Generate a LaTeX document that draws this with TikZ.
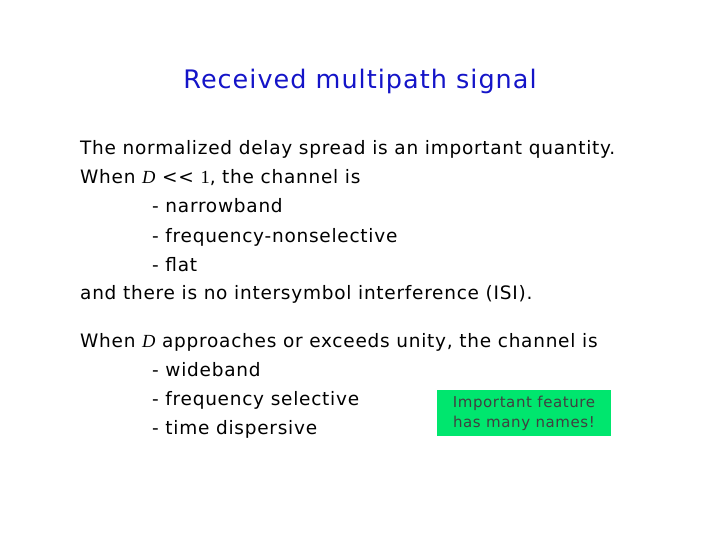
\documentclass[tikz,border=0pt]{standalone}
\usepackage{fontspec}
\setmainfont{DejaVu Sans}[LetterSpace=4]
\newfontfamily\ser{Liberation Serif}
\definecolor{ttl}{RGB}{20,20,200}
\definecolor{grn}{RGB}{0,230,110}
\begin{document}
\begin{tikzpicture}[x=1pt,y=-1pt,
  ln/.style={anchor=base west,inner sep=0pt,font=\fontsize{18.5}{20}\selectfont}]
\useasboundingbox (0,0) rectangle (720,540);
\node[anchor=base,inner sep=0pt,text=ttl,font=\fontsize{25.5}{27}\selectfont] (t) at (360,89) {Received multipath signal};
\node[ln] (l1) at (80,155) {The normalized delay spread is an important quantity.};
\node[ln] (l2) at (80,184) {When {\ser\itshape D} {<}{<} {\ser 1}, the channel is};
\node[ln] (l3) at (152,213) {- narrowband};
\node[ln] (l4) at (152,242) {- frequency-nonselective};
\node[ln] (l5) at (152,271) {- flat};
\node[ln] (l6) at (80,299) {and there is no intersymbol interference (ISI).};
\node[ln] (l7) at (80,347) {When {\ser\itshape D} approaches or exceeds unity, the channel is};
\node[ln] (l8) at (152,376) {- wideband};
\node[ln] (l9) at (152,405) {- frequency selective};
\node[ln] (l10) at (152,434) {- time dispersive};
\node[fill=grn,minimum width=174pt,minimum height=46pt,inner sep=0pt,align=center,
  text=black!75,font=\fontsize{15}{20}\selectfont] (b) at (524,413) {Important feature\\has many names!};
\end{tikzpicture}
\end{document}
